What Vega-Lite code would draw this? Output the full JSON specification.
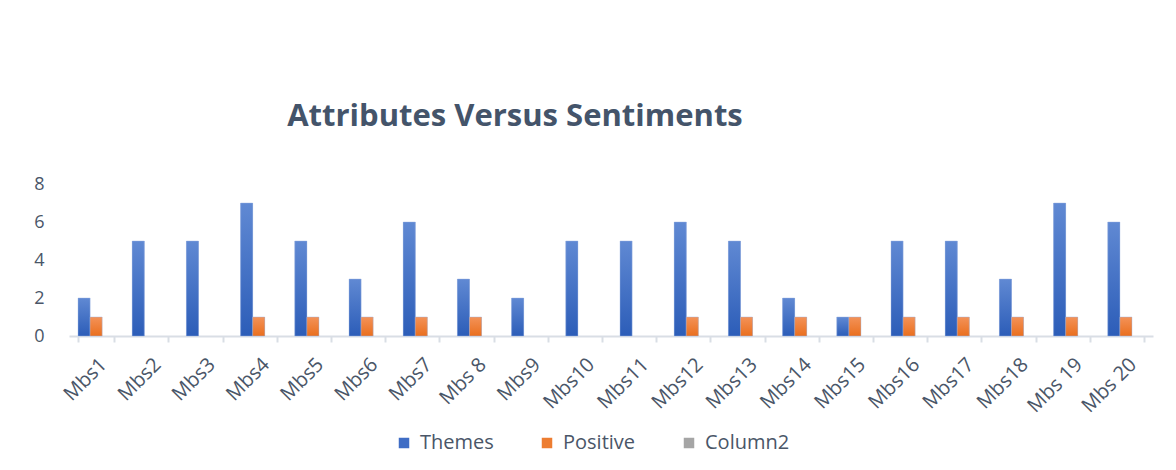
{
  "$schema": "https://vega.github.io/schema/vega-lite/v6.json",
  "width": 1084,
  "height": 152,
  "autosize": {"type": "none"},
  "padding": {"left": 69, "top": 184, "right": 23, "bottom": 134},
  "background": "white",
  "title": {
    "text": "Attributes Versus Sentiments",
    "font": "Open Sans",
    "fontSize": 31,
    "fontWeight": 700,
    "color": "#44546A",
    "anchor": "middle",
    "dx": -96,
    "offset": 42
  },
  "data": {
    "values": [
      {"cat": "Mbs1", "series": "Themes", "value": 2},
      {"cat": "Mbs1", "series": "Positive", "value": 1},
      {"cat": "Mbs2", "series": "Themes", "value": 5},
      {"cat": "Mbs3", "series": "Themes", "value": 5},
      {"cat": "Mbs4", "series": "Themes", "value": 7},
      {"cat": "Mbs4", "series": "Positive", "value": 1},
      {"cat": "Mbs5", "series": "Themes", "value": 5},
      {"cat": "Mbs5", "series": "Positive", "value": 1},
      {"cat": "Mbs6", "series": "Themes", "value": 3},
      {"cat": "Mbs6", "series": "Positive", "value": 1},
      {"cat": "Mbs7", "series": "Themes", "value": 6},
      {"cat": "Mbs7", "series": "Positive", "value": 1},
      {"cat": "Mbs 8", "series": "Themes", "value": 3},
      {"cat": "Mbs 8", "series": "Positive", "value": 1},
      {"cat": "Mbs9", "series": "Themes", "value": 2},
      {"cat": "Mbs10", "series": "Themes", "value": 5},
      {"cat": "Mbs11", "series": "Themes", "value": 5},
      {"cat": "Mbs12", "series": "Themes", "value": 6},
      {"cat": "Mbs12", "series": "Positive", "value": 1},
      {"cat": "Mbs13", "series": "Themes", "value": 5},
      {"cat": "Mbs13", "series": "Positive", "value": 1},
      {"cat": "Mbs14", "series": "Themes", "value": 2},
      {"cat": "Mbs14", "series": "Positive", "value": 1},
      {"cat": "Mbs15", "series": "Themes", "value": 1},
      {"cat": "Mbs15", "series": "Positive", "value": 1},
      {"cat": "Mbs16", "series": "Themes", "value": 5},
      {"cat": "Mbs16", "series": "Positive", "value": 1},
      {"cat": "Mbs17", "series": "Themes", "value": 5},
      {"cat": "Mbs17", "series": "Positive", "value": 1},
      {"cat": "Mbs18", "series": "Themes", "value": 3},
      {"cat": "Mbs18", "series": "Positive", "value": 1},
      {"cat": "Mbs 19", "series": "Themes", "value": 7},
      {"cat": "Mbs 19", "series": "Positive", "value": 1},
      {"cat": "Mbs 20", "series": "Themes", "value": 6},
      {"cat": "Mbs 20", "series": "Positive", "value": 1}
    ]
  },
  "encoding": {
    "x": {
      "field": "cat",
      "type": "nominal",
      "sort": null,
      "title": null,
      "scale": {"paddingInner": 0.3333, "paddingOuter": 0.1667},
      "axis": {
        "labelAngle": -45,
        "labelFont": "Open Sans",
        "labelFontSize": 20,
        "labelColor": "#4A5668",
        "labelPadding": 12,
        "domainColor": "#D9DEE5",
        "domainWidth": 2,
        "tickColor": "#D9DEE5",
        "tickWidth": 2,
        "tickSize": 6,
        "tickBand": "extent",
        "grid": false
      }
    },
    "xOffset": {
      "field": "series",
      "type": "nominal",
      "scale": {"domain": ["Themes", "Positive", "Column2"], "paddingInner": 0, "paddingOuter": 0}
    },
    "y": {
      "field": "value",
      "type": "quantitative",
      "title": null,
      "scale": {"domain": [0, 8]},
      "axis": {
        "values": [0, 2, 4, 6, 8],
        "domain": false,
        "ticks": false,
        "grid": false,
        "labelFont": "Open Sans",
        "labelFontSize": 18,
        "labelColor": "#4A5668",
        "labelPadding": 25
      }
    }
  },
  "layer": [
    {
      "mark": {"type": "bar"},
      "encoding": {
        "color": {
          "field": "series",
          "type": "nominal",
          "scale": {"domain": ["Themes", "Positive", "Column2"], "range": ["#3F6DC5", "#ED7D31", "#A5A5A5"]},
          "legend": {
            "title": null,
            "orient": "none",
            "legendX": 325,
            "legendY": 249,
            "direction": "horizontal",
            "symbolType": "square",
            "symbolSize": 110,
            "symbolStrokeWidth": 0,
            "labelFont": "Open Sans",
            "labelFontSize": 20,
            "labelColor": "#4A5668",
            "labelOffset": 6,
            "columnPadding": 43
          }
        }
      }
    },
    {
      "mark": {"type": "bar", "stroke": "#9db4e2", "strokeWidth": 0.6, "strokeOpacity": 0.7},
      "encoding": {
        "fill": {
          "condition": {
            "test": "datum.series === 'Themes'",
            "value": {"gradient": "linear", "x1": 0, "y1": 0, "x2": 0, "y2": 1, "stops": [{"offset": 0, "color": "#6089D3"}, {"offset": 1, "color": "#2C5DB8"}]}
          },
          "value": {"gradient": "linear", "x1": 0, "y1": 0, "x2": 0, "y2": 1, "stops": [{"offset": 0, "color": "#F39258"}, {"offset": 1, "color": "#EA6F1E"}]}
        }
      }
    }
  ],
  "config": {"view": {"stroke": null}}
}
